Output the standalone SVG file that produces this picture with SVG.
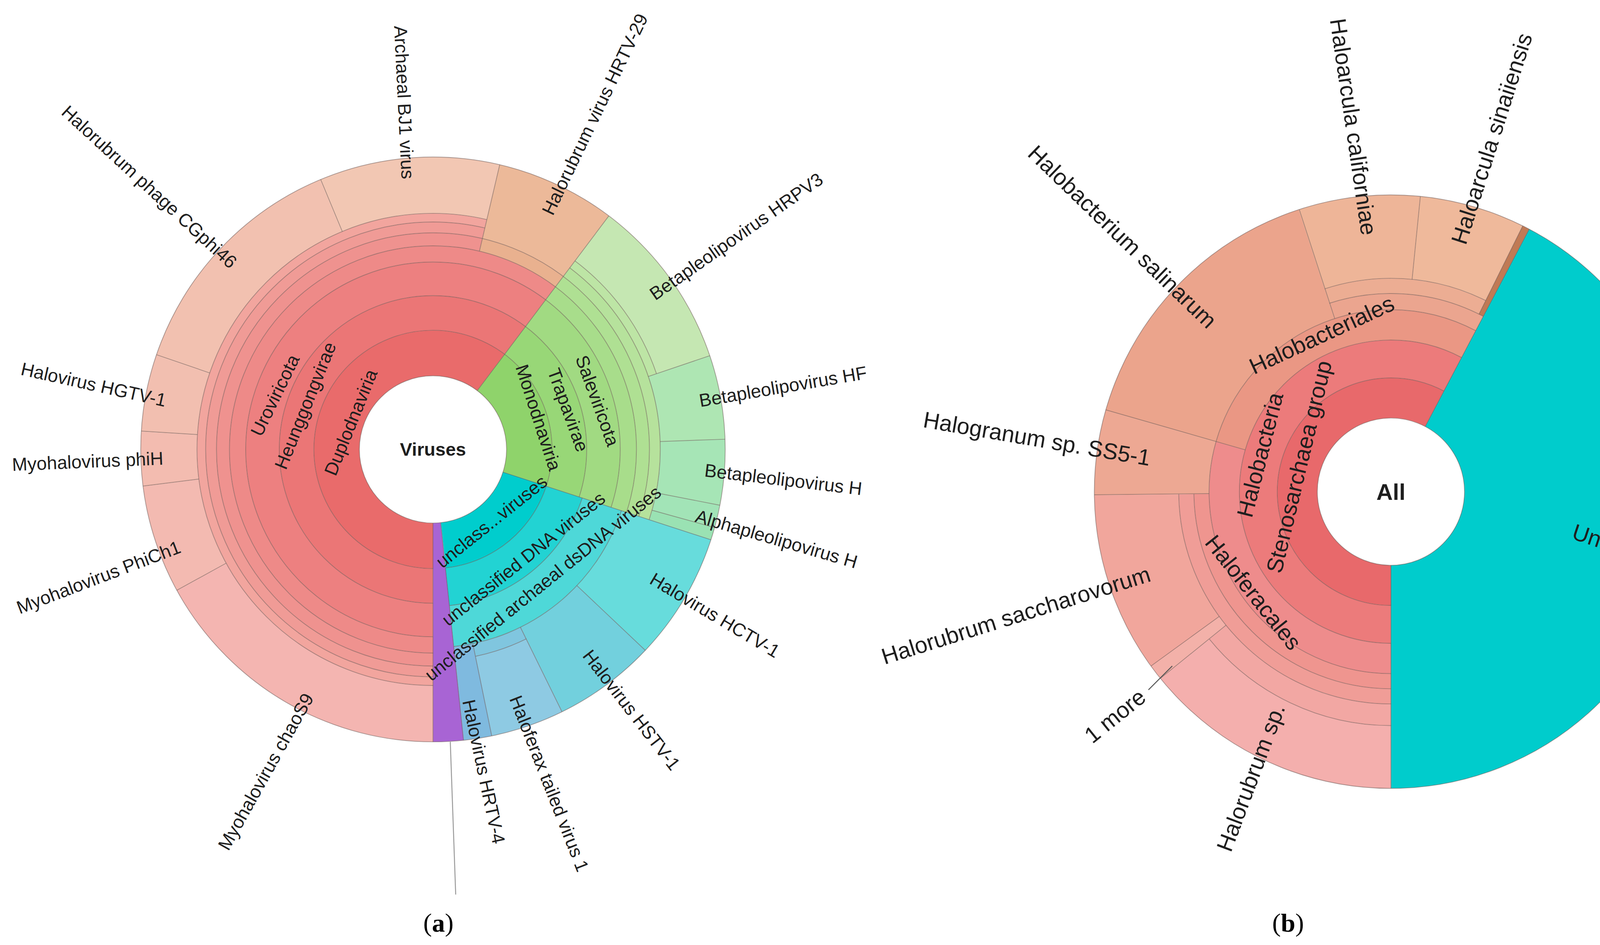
<svg xmlns="http://www.w3.org/2000/svg" width="4345" height="2418" viewBox="0 0 4345 2418">
<style>
.s{fill:none}
.o{fill:none;stroke:#6e5a56;stroke-opacity:.55;stroke-width:.7}
.la{font-family:"Liberation Sans",Arial,sans-serif;font-size:17px;fill:#1e1e1e;text-anchor:middle;dominant-baseline:central}
.lb{font-family:"Liberation Sans",Arial,sans-serif;font-size:21px;fill:#1e1e1e;text-anchor:middle;dominant-baseline:central}
.st{text-anchor:start}
.cap{font-family:"Liberation Serif","Times New Roman",serif;font-size:24px;fill:#000;text-anchor:middle;dominant-baseline:central}
</style>
<defs><clipPath id="ca"><rect x="0" y="0" width="800" height="873"/></clipPath></defs>
<rect width="4345" height="2418" fill="#fff"/>
<g transform="scale(2.771)">
<g id="chart-a" clip-path="url(#ca)">
<g id="a-sectors" transform="translate(400 415) rotate(-90)">
<g id="duplodnaviria">
<circle class="s" r="89" stroke="#e96b6b" stroke-width="42" pathLength="360" stroke-dasharray="217 143" stroke-dashoffset="-180"/>
<circle class="s" r="126" stroke="#eb7676" stroke-width="32" pathLength="360" stroke-dasharray="217 143" stroke-dashoffset="-180"/>
<circle class="s" r="157.5" stroke="#ed8080" stroke-width="31" pathLength="360" stroke-dasharray="217 143" stroke-dashoffset="-180"/>
<circle class="s" r="180.5" stroke="#ee8a88" stroke-width="15" pathLength="360" stroke-dasharray="217 143" stroke-dashoffset="-180"/>
<circle class="s" r="194" stroke="#ef928f" stroke-width="12" pathLength="360" stroke-dasharray="193.2 166.8" stroke-dashoffset="-180"/>
<circle class="s" r="205" stroke="#f09b96" stroke-width="10" pathLength="360" stroke-dasharray="193.2 166.8" stroke-dashoffset="-180"/>
<circle class="s" r="214" stroke="#f2a59e" stroke-width="8" pathLength="360" stroke-dasharray="193.2 166.8" stroke-dashoffset="-180"/>
<circle class="s" r="244" stroke="#f4b5b1" stroke-width="52" pathLength="360" stroke-dasharray="61.2 298.8" stroke-dashoffset="-180"/>
<circle class="s" r="244" stroke="#f3bab1" stroke-width="52" pathLength="360" stroke-dasharray="21.6 338.4" stroke-dashoffset="-241.2"/>
<circle class="s" r="244" stroke="#f3bcb0" stroke-width="52" pathLength="360" stroke-dasharray="10.8 349.2" stroke-dashoffset="-262.8"/>
<circle class="s" r="244" stroke="#f2bfb0" stroke-width="52" pathLength="360" stroke-dasharray="15.3 344.7" stroke-dashoffset="-273.6"/>
<circle class="s" r="244" stroke="#f2c1b0" stroke-width="52" pathLength="360" stroke-dasharray="48.5 311.5" stroke-dashoffset="-288.9"/>
<circle class="s" r="244" stroke="#f2c7b3" stroke-width="52" pathLength="360" stroke-dasharray="35.8 324.2" stroke-dashoffset="-337.4"/>
<circle class="s" r="194" stroke="#e9b18f" stroke-width="12" pathLength="360" stroke-dasharray="23.8 336.2" stroke-dashoffset="-13.2"/>
<circle class="s" r="235" stroke="#ecb999" stroke-width="70" pathLength="360" stroke-dasharray="23.8 336.2" stroke-dashoffset="-13.2"/>
</g>
<g id="monodnaviria">
<circle class="s" r="89" stroke="#8fd36b" stroke-width="42" pathLength="360" stroke-dasharray="71 289" stroke-dashoffset="-37"/>
<circle class="s" r="126" stroke="#98d777" stroke-width="32" pathLength="360" stroke-dasharray="71 289" stroke-dashoffset="-37"/>
<circle class="s" r="157.5" stroke="#a1da82" stroke-width="31" pathLength="360" stroke-dasharray="71 289" stroke-dashoffset="-37"/>
<circle class="s" r="180.5" stroke="#a8dd8b" stroke-width="15" pathLength="360" stroke-dasharray="71 289" stroke-dashoffset="-37"/>
<circle class="s" r="194" stroke="#afe093" stroke-width="12" pathLength="360" stroke-dasharray="71 289" stroke-dashoffset="-37"/>
<circle class="s" r="205" stroke="#b6e29c" stroke-width="10" pathLength="360" stroke-dasharray="71 289" stroke-dashoffset="-37"/>
<circle class="s" r="214" stroke="#bde5a5" stroke-width="8" pathLength="360" stroke-dasharray="34.3 325.7" stroke-dashoffset="-37"/>
<circle class="s" r="244" stroke="#c5e7b2" stroke-width="52" pathLength="360" stroke-dasharray="34.3 325.7" stroke-dashoffset="-37"/>
<circle class="s" r="240" stroke="#aee6b3" stroke-width="60" pathLength="360" stroke-dasharray="16.7 343.3" stroke-dashoffset="-71.3"/>
<circle class="s" r="240" stroke="#a6e5b6" stroke-width="60" pathLength="360" stroke-dasharray="13 347" stroke-dashoffset="-88"/>
<circle class="s" r="240" stroke="#a2e4b7" stroke-width="60" pathLength="360" stroke-dasharray="4.5 355.5" stroke-dashoffset="-101"/>
<circle class="s" r="240" stroke="#9ae2b3" stroke-width="60" pathLength="360" stroke-dasharray="2.5 357.5" stroke-dashoffset="-105.5"/>
</g>
<g id="unclassified">
<circle class="s" r="89" stroke="#00cdcd" stroke-width="42" pathLength="360" stroke-dasharray="66 294" stroke-dashoffset="-108"/>
<circle class="s" r="127.5" stroke="#22d3d3" stroke-width="35" pathLength="360" stroke-dasharray="66 294" stroke-dashoffset="-108"/>
<circle class="s" r="164" stroke="#4ed8d8" stroke-width="38" pathLength="360" stroke-dasharray="66 294" stroke-dashoffset="-108"/>
<circle class="s" r="226.5" stroke="#67dcdc" stroke-width="87" pathLength="360" stroke-dasharray="25.4 334.6" stroke-dashoffset="-108"/>
<circle class="s" r="226.5" stroke="#72d0dd" stroke-width="87" pathLength="360" stroke-dasharray="20.4 339.6" stroke-dashoffset="-133.4"/>
<circle class="s" r="189" stroke="#80c6df" stroke-width="12" pathLength="360" stroke-dasharray="14.6 345.4" stroke-dashoffset="-153.8"/>
<circle class="s" r="232.5" stroke="#8ecae3" stroke-width="75" pathLength="360" stroke-dasharray="14.6 345.4" stroke-dashoffset="-153.8"/>
<circle class="s" r="226.5" stroke="#7fbadf" stroke-width="87" pathLength="360" stroke-dasharray="5.6 354.4" stroke-dashoffset="-168.4"/>
</g>
<g id="purple">
<circle class="s" r="169" stroke="#a864d4" stroke-width="202" pathLength="360" stroke-dasharray="6 354" stroke-dashoffset="-174"/>
</g>
<g id="a-outlines">
<circle class="o" r="270"/><circle class="o" r="68"/>
<circle class="o" r="110" pathLength="360" stroke-dasharray="354 6" stroke-dashoffset="-180"/>
<circle class="o" r="142" pathLength="360" stroke-dasharray="288 72" stroke-dashoffset="-180"/>
<circle class="o" r="145" pathLength="360" stroke-dasharray="66 294" stroke-dashoffset="-108"/>
<circle class="o" r="173" pathLength="360" stroke-dasharray="288 72" stroke-dashoffset="-180"/>
<circle class="o" r="183" pathLength="360" stroke-dasharray="66 294" stroke-dashoffset="-108"/>
<circle class="o" r="188" pathLength="360" stroke-dasharray="288 72" stroke-dashoffset="-180"/>
<circle class="o" r="200" pathLength="360" stroke-dasharray="288 72" stroke-dashoffset="-180"/>
<circle class="o" r="210" pathLength="360" stroke-dasharray="193.2 166.8" stroke-dashoffset="-180"/>
<circle class="o" r="210" pathLength="360" stroke-dasharray="71 289" stroke-dashoffset="-37"/>
<circle class="o" r="218" pathLength="360" stroke-dasharray="193.2 166.8" stroke-dashoffset="-180"/>
<circle class="o" r="218" pathLength="360" stroke-dasharray="34.3 325.7" stroke-dashoffset="-37"/>
<circle class="o" r="195" pathLength="360" stroke-dasharray="14.6 345.4" stroke-dashoffset="-153.8"/>
<line class="o" x1="68" x2="270" transform="rotate(180)"/>
<line class="o" x1="68" x2="270" transform="rotate(37)"/>
<line class="o" x1="68" x2="270" transform="rotate(108)"/>
<line class="o" x1="68" x2="270" transform="rotate(174)"/>
<line class="o" x1="218" x2="270" transform="rotate(241.2)"/>
<line class="o" x1="218" x2="270" transform="rotate(262.8)"/>
<line class="o" x1="218" x2="270" transform="rotate(273.6)"/>
<line class="o" x1="218" x2="270" transform="rotate(288.9)"/>
<line class="o" x1="218" x2="270" transform="rotate(337.4)"/>
<line class="o" x1="188" x2="270" transform="rotate(13.2)"/>
<line class="o" x1="210" x2="270" transform="rotate(71.3)"/>
<line class="o" x1="210" x2="270" transform="rotate(88)"/>
<line class="o" x1="210" x2="270" transform="rotate(101)"/>
<line class="o" x1="210" x2="270" transform="rotate(105.5)"/>
<line class="o" x1="183" x2="270" transform="rotate(133.4)"/>
<line class="o" x1="183" x2="270" transform="rotate(153.8)"/>
<line class="o" x1="183" x2="270" transform="rotate(168.4)"/>
</g>
</g>
<g id="a-connectors"><line x1="416" y1="685" x2="421" y2="826" stroke="#9a9a9a" stroke-width="0.9"/></g>
<g id="a-labels">
<text class="la" font-weight="bold" x="400" y="415">Viruses</text>
<text class="la" transform="translate(324 390) rotate(-68)">Duplodnaviria</text>
<text class="la" transform="translate(282 374.5) rotate(-68)">Heunggongvirae</text>
<text class="la" transform="translate(254 365) rotate(-64)">Uroviricota</text>
<text class="la" transform="translate(497.5 385.5) rotate(72)">Monodnaviria</text>
<text class="la" transform="translate(525 378.5) rotate(70)">Trapavirae</text>
<text class="la" transform="translate(552 370) rotate(70)">Saleviricota</text>
<text class="la" transform="translate(454 481.5) rotate(-38.6)">unclass...viruses</text>
<text class="la" transform="translate(483.5 516) rotate(-38.5)">unclassified DNA viruses</text>
<text class="la" transform="translate(501.5 538.5) rotate(-39)">unclassified archaeal dsDNA viruses</text>
<text class="la" transform="translate(373.5 94.5) rotate(87.2)">Archaeal BJ1 virus</text>
<text class="la" transform="translate(549.5 105.5) rotate(-64.3)">Halorubrum virus HRTV-29</text>
<text class="la" transform="translate(138 172.5) rotate(42.6)">Halorubrum phage CGphi46</text>
<text class="la" transform="translate(86.5 355) rotate(12.5)">Halovirus HGTV-1</text>
<text class="la" transform="translate(81 426) rotate(-2.4)">Myohalovirus phiH</text>
<text class="la" transform="translate(91 533) rotate(-20.9)">Myohalovirus PhiCh1</text>
<text class="la" transform="translate(245.5 712.5) rotate(-60.8)">Myohalovirus chaoS9</text>
<text class="la" transform="translate(447 712.5) rotate(78)">Halovirus HRTV-4</text>
<text class="la" transform="translate(507.5 723.5) rotate(68.6)">Haloferax tailed virus 1</text>
<text class="la" transform="translate(583.5 655.5) rotate(52.3)">Halovirus HSTV-1</text>
<text class="la" transform="translate(660.5 568) rotate(30.8)">Halovirus HCTV-1</text>
<text class="la st" transform="translate(602 273) rotate(-35)">Betapleolipovirus HRPV3</text>
<text class="la st" transform="translate(646 370) rotate(-9.6)">Betapleolipovirus HF</text>
<text class="la st" transform="translate(651 434) rotate(6.8)">Betapleolipovirus H</text>
<text class="la st" transform="translate(643 476) rotate(16.2)">Alphapleolipovirus H</text>
</g>
</g>
<g id="chart-b">
<g id="b-sectors" transform="translate(1285 454) rotate(-90)">
<g id="stenosarchaea">
<circle class="s" r="86.5" stroke="#e8696b" stroke-width="37" pathLength="360" stroke-dasharray="207.8 152.2" stroke-dashoffset="-180"/>
<circle class="s" r="122.5" stroke="#ec7b7b" stroke-width="35" pathLength="360" stroke-dasharray="207.8 152.2" stroke-dashoffset="-180"/>
<circle class="s" r="154" stroke="#ee8c8c" stroke-width="28" pathLength="360" stroke-dasharray="106 254" stroke-dashoffset="-180"/>
<circle class="s" r="154" stroke="#ea9784" stroke-width="28" pathLength="360" stroke-dasharray="101.8 258.2" stroke-dashoffset="-286"/>
<circle class="s" r="221" stroke="#eda893" stroke-width="106" pathLength="360" stroke-dasharray="16.6 343.4" stroke-dashoffset="-269.4"/>
<circle class="s" r="175" stroke="#ef958f" stroke-width="14" pathLength="360" stroke-dasharray="89.4 270.6" stroke-dashoffset="-180"/>
<circle class="s" r="189" stroke="#f09d97" stroke-width="14" pathLength="360" stroke-dasharray="89.4 270.6" stroke-dashoffset="-180"/>
<circle class="s" r="235" stroke="#f1a69c" stroke-width="78" pathLength="360" stroke-dasharray="35.4 324.6" stroke-dashoffset="-234"/>
<circle class="s" r="235" stroke="#f3b1a9" stroke-width="78" pathLength="360" stroke-dasharray="3 357" stroke-dashoffset="-231"/>
<circle class="s" r="206" stroke="#f2a7a3" stroke-width="20" pathLength="360" stroke-dasharray="51 309" stroke-dashoffset="-180"/>
<circle class="s" r="245" stroke="#f4afad" stroke-width="58" pathLength="360" stroke-dasharray="51 309" stroke-dashoffset="-180"/>
<circle class="s" r="221" stroke="#eba48c" stroke-width="106" pathLength="360" stroke-dasharray="56 304" stroke-dashoffset="-286"/>
<circle class="s" r="175.5" stroke="#eba58f" stroke-width="15" pathLength="360" stroke-dasharray="45.8 314.2" stroke-dashoffset="-342"/>
<circle class="s" r="190" stroke="#ecad93" stroke-width="14" pathLength="360" stroke-dasharray="44.4 315.6" stroke-dashoffset="-342"/>
<circle class="s" r="235.5" stroke="#eeb598" stroke-width="77" pathLength="360" stroke-dasharray="23.7 336.3" stroke-dashoffset="-342"/>
<circle class="s" r="235.5" stroke="#efb99b" stroke-width="77" pathLength="360" stroke-dasharray="20.7 339.3" stroke-dashoffset="-5.7"/>
<circle class="s" r="228.5" stroke="#c07a55" stroke-width="91" pathLength="360" stroke-dasharray="1.4 358.6" stroke-dashoffset="-26.4"/>
</g>
<g id="unknown">
<circle class="s" r="171" stroke="#00cccc" stroke-width="206" pathLength="360" stroke-dasharray="152.2 207.8" stroke-dashoffset="-27.8"/>
</g>
<g id="b-outlines">
<circle class="o" r="274"/><circle class="o" r="68"/>
<circle class="o" r="105" pathLength="360" stroke-dasharray="207.8 152.2" stroke-dashoffset="-180"/>
<circle class="o" r="140" pathLength="360" stroke-dasharray="207.8 152.2" stroke-dashoffset="-180"/>
<circle class="o" r="168" pathLength="360" stroke-dasharray="207.8 152.2" stroke-dashoffset="-180"/>
<circle class="o" r="182" pathLength="360" stroke-dasharray="89.4 270.6" stroke-dashoffset="-180"/>
<circle class="o" r="196" pathLength="360" stroke-dasharray="89.4 270.6" stroke-dashoffset="-180"/>
<circle class="o" r="216" pathLength="360" stroke-dasharray="51 309" stroke-dashoffset="-180"/>
<circle class="o" r="183" pathLength="360" stroke-dasharray="45.8 314.2" stroke-dashoffset="-342"/>
<circle class="o" r="197" pathLength="360" stroke-dasharray="44.4 315.6" stroke-dashoffset="-342"/>
<line class="o" x1="68" x2="274" transform="rotate(180)"/>
<line class="o" x1="68" x2="274" transform="rotate(27.8)"/>
<line class="o" x1="140" x2="274" transform="rotate(286)"/>
<line class="o" x1="168" x2="274" transform="rotate(269.4)"/>
<line class="o" x1="168" x2="274" transform="rotate(342)"/>
<line class="o" x1="197" x2="274" transform="rotate(5.7)"/>
<line class="o" x1="183" x2="274" transform="rotate(26.4)"/>
<line class="o" x1="196" x2="274" transform="rotate(231)"/>
<line class="o" x1="196" x2="274" transform="rotate(234)"/>
</g>
</g>
<g id="b-connectors"><line x1="1061" y1="637" x2="1083" y2="615" stroke="#555" stroke-width="0.9"/></g>
<g id="b-labels">
<text class="lb" font-weight="bold" x="1285" y="454">All</text>
<text class="lb" transform="translate(1200 431) rotate(-76.5)">Stenosarchaea group</text>
<text class="lb" transform="translate(1164 420) rotate(-75.6)">Halobacteria</text>
<text class="lb" transform="translate(1221 309) rotate(-24.8)">Halobacteriales</text>
<text class="lb" transform="translate(1158 547) rotate(51.5)">Haloferacales</text>
<text class="lb" transform="translate(1495 504) rotate(18.4)">Unknown</text>
<text class="lb" transform="translate(1037 218.5) rotate(44)">Halobacterium salinarum</text>
<text class="lb" transform="translate(1250.5 117) rotate(81.7)">Haloarcula californiae</text>
<text class="lb" transform="translate(1378 128) rotate(-72.3)">Haloarcula sinaiiensis</text>
<text class="lb" transform="translate(958 405) rotate(9.7)">Halogranum sp. SS5-1</text>
<text class="lb" transform="translate(938.5 568) rotate(-17.4)">Halorubrum saccharovorum</text>
<text class="lb" transform="translate(1155.5 718) rotate(-69.4)">Halorubrum sp.</text>
<text class="lb" transform="translate(1030 661) rotate(-38.9)">1 more</text>
</g>
</g>
<text class="cap" x="405" y="852">(<tspan font-weight="bold">a</tspan>)</text>
<text class="cap" x="1190" y="852">(<tspan font-weight="bold">b</tspan>)</text>
</g>
</svg>
